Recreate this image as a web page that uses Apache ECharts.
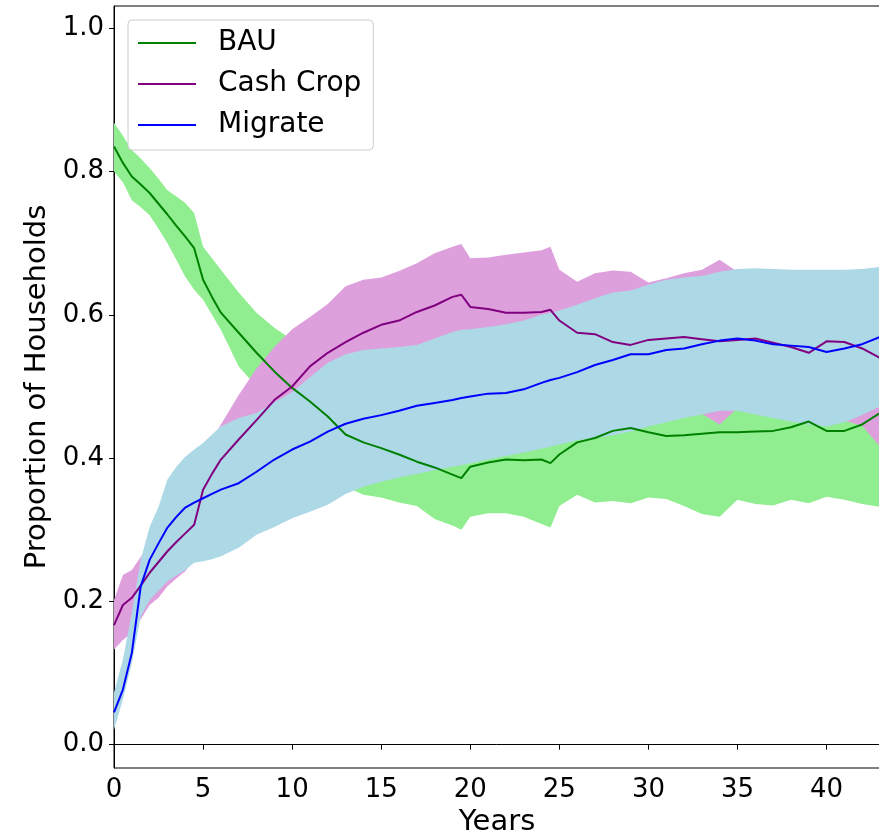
<!DOCTYPE html>
<html>
<head>
  <meta charset="UTF-8">
  <title>households</title>
  <style>
    html, body { margin: 0; padding: 0; background: #fff; }
    #chart { width: 879px; height: 833px; }
  </style>
  <script src="https://cdn.jsdelivr.net/npm/echarts@6/dist/echarts.min.js"></script>
</head>
<body>
<div id="chart"></div>
<script type="text/javascript">
  // x values (years) shared by every series
  const years = [0, 0.5, 1, 1.5, 2, 2.5, 3, 3.5, 4, 4.5, 5, 5.5, 6, 7, 8, 9, 10, 11, 12, 13, 14, 15, 16, 17, 18, 19, 19.5,
    20, 21, 22, 23, 24, 24.5, 25, 26, 27, 28, 29, 30, 31, 32, 33, 34, 35, 36, 37, 38, 39, 40, 41, 42, 43];

  // BAU
  const bauMean = [.835, .812, .793, .782, .770, .755, .740, .724, .709, .693, .649, .625, .603, .575, .547, .521, .498, .479, .458, .433, .422, .414, .405, .395, .387, .377, .372,
    .388, .394, .398, .397, .398, .393, .405, .422, .428, .438, .442, .436, .431, .432, .434, .436, .436, .437, .438, .443, .451, .438, .438, .447, .463];
  const bauUpper = [.868, .850, .830, .818, .805, .790, .774, .765, .756, .742, .695, .679, .663, .631, .603, .582, .565, .548, .528, .505, .490, .480, .470, .460, .455, .445, .440,
    .450, .455, .460, .460, .462, .460, .470, .480, .490, .500, .505, .500, .495, .495, .500, .505, .505, .510, .510, .515, .520, .510, .510, .515, .530];
  const bauLower = [.800, .785, .760, .750, .739, .720, .700, .677, .653, .635, .621, .600, .579, .528, .500, .470, .445, .420, .390, .360, .349, .345, .338, .333, .315, .306, .300,
    .318, .323, .323, .318, .308, .303, .333, .349, .338, .340, .337, .345, .343, .333, .322, .318, .342, .336, .334, .342, .337, .346, .342, .336, .332];

  // Cash Crop
  const cashMean = [.167, .195, .205, .222, .240, .255, .270, .283, .295, .307, .356, .378, .398, .426, .453, .481, .500, .528, .547, .562, .575, .586, .592, .604, .613, .625, .628,
    .611, .608, .603, .603, .604, .607, .592, .575, .573, .562, .558, .565, .567, .569, .566, .563, .565, .567, .561, .555, .547, .563, .562, .553, .540];
  const cashUpper = [.202, .237, .244, .262, .280, .300, .320, .340, .360, .380, .400, .425, .447, .488, .525, .555, .580, .597, .615, .640, .649, .652, .661, .672, .686, .695, .699,
    .679, .680, .684, .687, .690, .695, .663, .646, .658, .662, .660, .645, .651, .658, .663, .677, .660, .655, .655, .655, .650, .655, .655, .650, .640];
  const cashLower = [.133, .146, .156, .175, .195, .205, .221, .232, .242, .258, .280, .310, .330, .370, .390, .410, .430, .450, .470, .490, .500, .510, .520, .530, .540, .550, .555,
    .545, .540, .535, .530, .520, .520, .505, .490, .480, .475, .470, .465, .462, .462, .462, .447, .470, .465, .460, .455, .450, .445, .452, .445, .416];

  // Migrate
  const migMean = [.045, .077, .128, .221, .258, .281, .303, .318, .331, .338, .344, .350, .356, .365, .381, .398, .412, .423, .437, .448, .455, .460, .466, .473, .477, .481, .484,
    .486, .490, .491, .496, .505, .509, .512, .520, .530, .537, .545, .545, .551, .553, .559, .564, .567, .564, .559, .557, .555, .548, .553, .559, .569];
  const migUpper = [.073, .119, .184, .258, .304, .332, .370, .388, .402, .412, .421, .433, .444, .456, .463, .478, .492, .513, .533, .545, .551, .553, .555, .558, .567, .576, .579,
    .580, .583, .587, .592, .600, .603, .606, .614, .623, .631, .634, .642, .649, .652, .654, .660, .664, .665, .664, .663, .663, .663, .663, .664, .667];
  const migLower = [.021, .063, .114, .179, .202, .215, .228, .236, .244, .254, .256, .259, .263, .275, .293, .304, .316, .325, .335, .350, .360, .367, .373, .378, .383, .388, .390,
    .393, .398, .403, .408, .413, .416, .419, .425, .428, .432, .437, .444, .450, .456, .461, .466, .466, .461, .456, .451, .447, .444, .450, .460, .472];

  const yTicks = [0, 0.2, 0.4, 0.6, 0.8, 1.0];
  const xTicks = [0, 5, 10, 15, 20, 25, 30, 35, 40];

  const pairs = function (ys) {
    return years.map(function (x, i) { return [x, ys[i]]; });
  };

  // filled band between lower and upper, drawn as one polygon through the axes
  function band(id, lower, upper, fill) {
    return {
      id: id,
      type: 'custom',
      silent: true,
      z: 1,
      encode: { x: 0, y: [1, 2] },
      data: years.map(function (x, i) { return [x, lower[i], upper[i]]; }),
      renderItem: function (params, api) {
        if (params.dataIndexInside !== 0) return null;
        const n = params.dataInsideLength;
        const pts = [];
        for (let i = 0; i < n; i++) {
          pts.push(api.coord([api.value(0, i), api.value(2, i)]));
        }
        for (let i = n - 1; i >= 0; i--) {
          pts.push(api.coord([api.value(0, i), api.value(1, i)]));
        }
        return {
          type: 'polygon',
          shape: { points: pts },
          style: { fill: fill, stroke: null }
        };
      }
    };
  }

  function meanLine(name, ys, color) {
    return {
      name: name,
      type: 'line',
      data: pairs(ys),
      symbol: 'none',
      color: color,
      lineStyle: { color: color, width: 2 },
      z: 3
    };
  }

  const fontFamily = 'DejaVu Sans';
  const chart = echarts.init(document.getElementById('chart'));

  chart.setOption({
    animation: false,
    textStyle: { fontFamily: fontFamily },
    grid: {
      left: 114, right: -1, top: 6, bottom: 65,
      outerBoundsMode: 'none',
      containLabel: false,
      show: true, borderColor: '#000', borderWidth: 1,
      backgroundColor: 'transparent'
    },
    legend: {
      data: ['BAU', 'Cash Crop', 'Migrate'],
      orient: 'vertical',
      left: 128,
      top: 20,
      icon: 'rect',
      itemWidth: 58,
      itemHeight: 2,
      itemGap: 11,
      padding: [8, 12, 10, 10],
      backgroundColor: 'rgba(255,255,255,0.8)',
      borderColor: '#cccccc',
      borderWidth: 1,
      borderRadius: 4,
      textStyle: { fontSize: 28, color: '#000', lineHeight: 30, padding: [0, 0, 0, 17], fontFamily: fontFamily }
    },
    xAxis: {
      type: 'value',
      min: 0,
      max: 43,
      name: 'Years',
      nameLocation: 'middle',
      nameGap: 40,
      nameTextStyle: { fontSize: 29, color: '#000', fontFamily: fontFamily },
      axisLine: { lineStyle: { color: '#000', width: 1 } },
      axisTick: { show: true, length: 5, customValues: xTicks, lineStyle: { color: '#000' } },
      axisLabel: { fontSize: 26, color: '#000', margin: 9, customValues: xTicks },
      splitLine: { show: false }
    },
    yAxis: {
      type: 'value',
      min: -0.0325,
      max: 1.031,
      name: 'Proportion of Households',
      nameLocation: 'middle',
      nameGap: 60,
      nameTextStyle: { fontSize: 29, color: '#000', fontFamily: fontFamily },
      axisLine: { show: true, lineStyle: { color: '#000', width: 1 } },
      axisTick: { show: true, length: 5, customValues: yTicks, lineStyle: { color: '#000' } },
      axisLabel: {
        fontSize: 26, color: '#000', margin: 10, customValues: yTicks,
        formatter: function (v) { return v.toFixed(1); }
      },
      splitLine: { show: false }
    },
    series: [
      band('bauBand', bauLower, bauUpper, '#90ee90'),
      band('cashBand', cashLower, cashUpper, '#dda0dd'),
      band('migBand', migLower, migUpper, '#add8e6'),
      meanLine('BAU', bauMean, '#008000'),
      meanLine('Cash Crop', cashMean, '#800080'),
      meanLine('Migrate', migMean, '#0000ff')
    ]
  });
</script>
</body>
</html>
